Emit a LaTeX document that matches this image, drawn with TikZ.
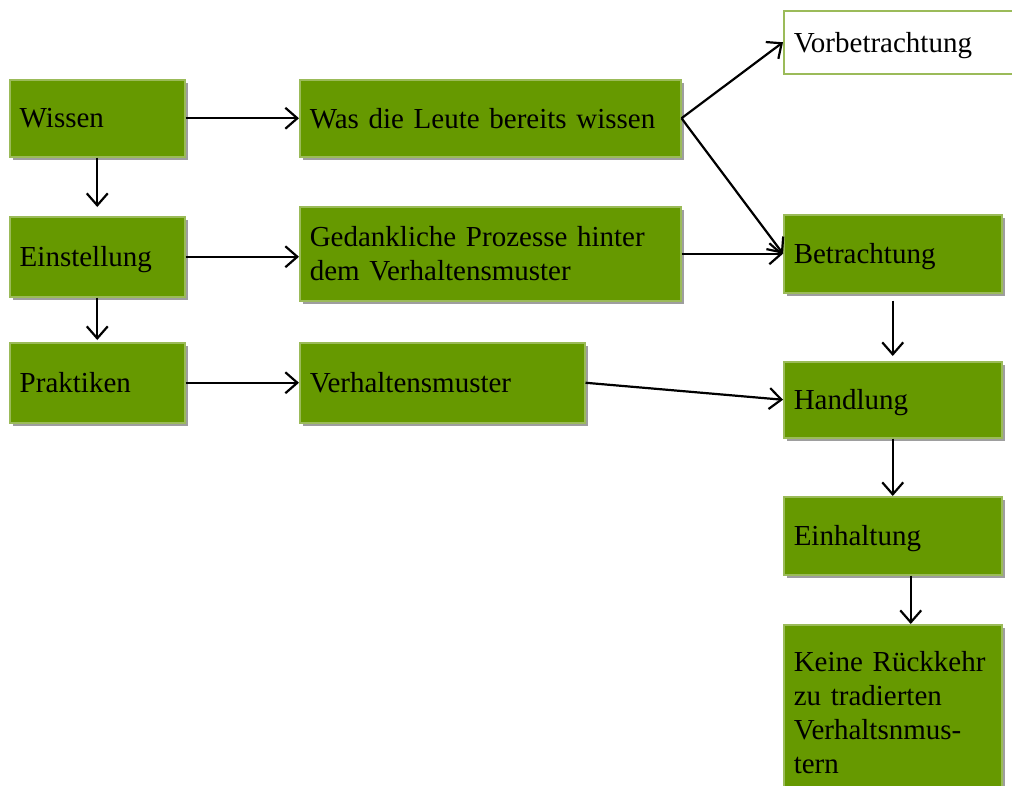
\documentclass[tikz,border=0pt]{standalone}
\usepackage{fontspec}
\setmainfont{Liberation Serif}
\usetikzlibrary{arrows.meta,shadows}
\definecolor{blattgruen}{RGB}{102,153,0}
\definecolor{randgruen}{RGB}{155,187,89}
\tikzset{
  stufe/.style={draw=randgruen, line width=1.5pt, fill=blattgruen, anchor=north west,
    inner xsep=10pt, inner ysep=0pt, align=left,
    font=\fontsize{29}{34}\selectfont,
    drop shadow={shadow xshift=3pt, shadow yshift=-3pt, fill=black!38, opacity=1}},
  einzeilig/.style={text depth=0pt},
  leer/.style={draw=randgruen, line width=1.5pt, fill=white, anchor=north west,
    inner xsep=10pt, inner ysep=0pt, align=left, text depth=0pt,
    font=\fontsize{29}{34}\selectfont},
  pfeil/.style={-{Straight Barb[length=12pt,width=21pt]}, line width=2.2pt}
}
\begin{document}
\begin{tikzpicture}[x=1pt,y=-1pt]
\useasboundingbox (0,0) rectangle (1012,785);
% linke Spalte
\node[stufe, einzeilig, text width=155pt, minimum height=77pt] (wissen) at (9,79) {Wissen};
\node[stufe, einzeilig, text width=155pt, minimum height=80pt] (einst) at (9,216) {Einstellung};
\node[stufe, einzeilig, text width=155pt, minimum height=80pt] (prak) at (9,342) {Praktiken};
% mittlere Spalte
\node[stufe, einzeilig, text width=361pt, minimum height=77pt] (was) at (299,79) {Was die Leute bereits wissen};
\node[stufe, text width=361pt, minimum height=94pt] (ged) at (299,206) {Gedankliche Prozesse hinter\\dem Verhaltensmuster};
\node[stufe, einzeilig, text width=265pt, minimum height=80pt] (verh) at (299,342) {Verhaltensmuster};
% rechte Spalte
\node[leer, text width=220pt, minimum height=63pt] (vor) at (783,10) {Vorbetrachtung};
\node[stufe, einzeilig, text width=198pt, minimum height=78pt] (betr) at (783,214) {Betrachtung};
\node[stufe, einzeilig, text width=198pt, minimum height=76pt] (hand) at (783,361) {Handlung};
\node[stufe, einzeilig, text width=198pt, minimum height=78pt] (einh) at (783,496) {Einhaltung};
\node[stufe, text width=198pt, minimum height=175pt] (keine) at (783,624) {Keine R\"uckkehr\\zu tradierten\\Verhaltsnmus-\\tern};

\draw[pfeil] (wissen.east) -- (wissen.east -| was.west);
\draw[pfeil] (einst.east) -- (einst.east -| ged.west);
\draw[pfeil] (prak.east) -- (prak.east -| verh.west);
\draw[pfeil, shorten >=9pt] (wissen.south) -- (einst.north);
\draw[pfeil, shorten >=2pt] (einst.south) -- (prak.north);
\draw[pfeil] (was.east) -- (vor.west);
\draw[pfeil] (was.east) -- (betr.west);
\draw[pfeil] (ged.east) -- (ged.east -| betr.west);
\draw[pfeil] (verh.east) -- (hand.west);
\draw[pfeil, shorten <=7pt, shorten >=5pt] (betr.south) -- (hand.north);
\draw[pfeil] (hand.south) -- (einh.north);
\draw[pfeil] ([xshift=18pt]einh.south) -- ([xshift=18pt]keine.north);
\end{tikzpicture}
\end{document}
